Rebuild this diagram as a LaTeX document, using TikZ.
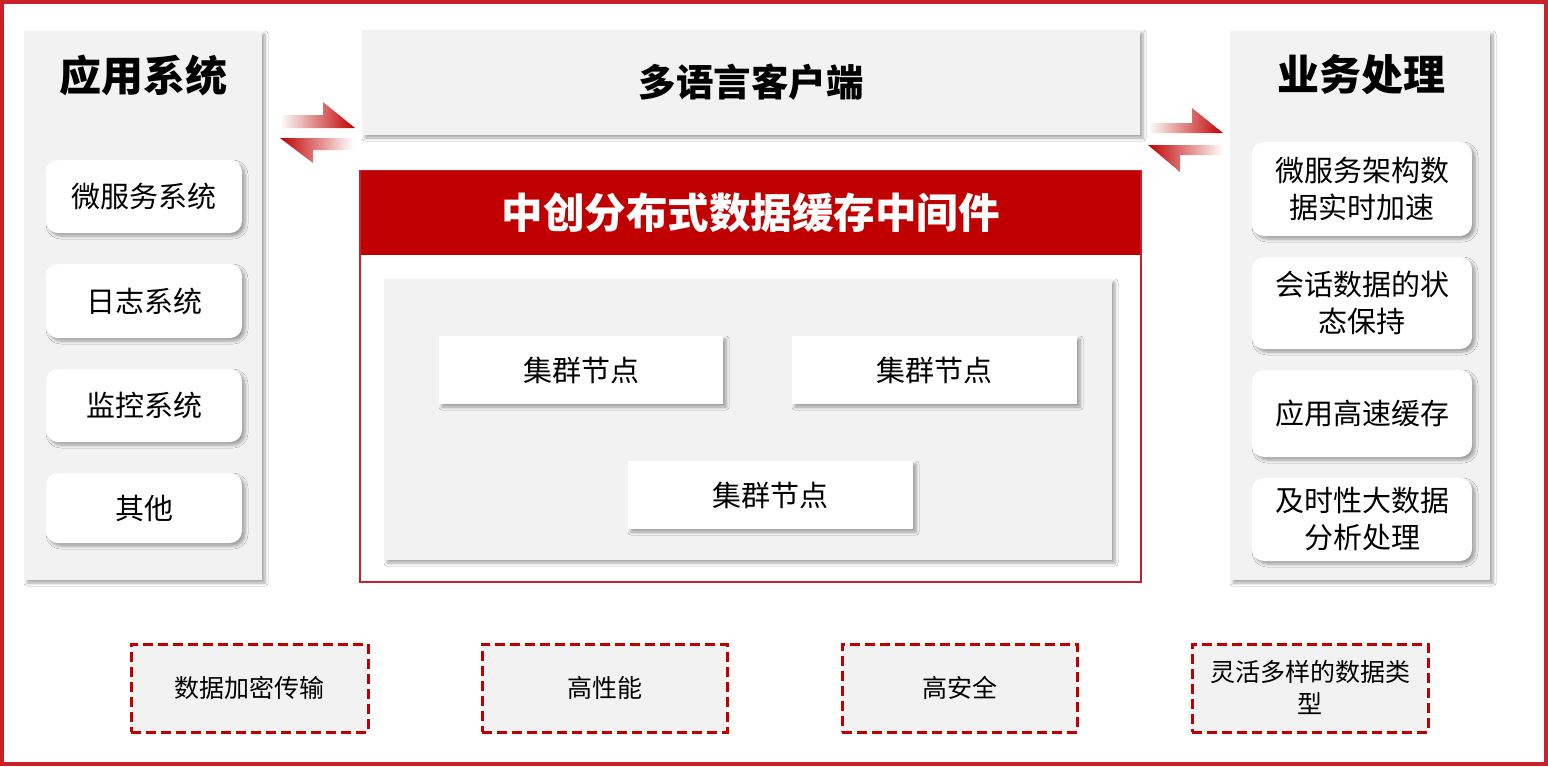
\documentclass[tikz,border=0pt]{standalone}
\usepackage{fontspec}
\setmainfont{Noto Sans CJK SC}
\usetikzlibrary{shadows.blur}
\definecolor{frameRed}{RGB}{204,32,40}
\definecolor{hdrRed}{RGB}{192,0,0}
\definecolor{panelGray}{RGB}{242,242,242}
\definecolor{arrPink}{RGB}{250,160,168}
\tikzset{
  shadowed/.style={blur shadow={shadow xshift=3pt,shadow yshift=-3pt,shadow blur steps=6,shadow blur radius=3pt,shadow opacity=35}},
  panel/.style={fill=panelGray,draw=none,shadowed,inner sep=0pt},
  subbox/.style={fill=white,draw=none,rounded corners=12pt,shadowed,align=center,font=\fontsize{29}{37}\selectfont,inner sep=0pt},
  clusterbox/.style={fill=white,draw=none,shadowed,font=\fontsize{29}{34}\selectfont,inner sep=0pt},
  feature/.style={fill=panelGray,draw=hdrRed,line width=3pt,dash pattern=on 10pt off 5pt,align=center,font=\fontsize{25}{32}\selectfont,inner sep=0pt},
  paneltitle/.style={font=\bfseries\fontsize{42}{50}\selectfont},
}
\begin{document}
\begin{tikzpicture}[x=1pt,y=-1pt]
\useasboundingbox (0,0) rectangle (1548,766);
\fill[white] (0,0) rectangle (1548,766);
\draw[frameRed,line width=4pt] (2,2) rectangle (1546,764);

% left panel
\node[panel,minimum width=238pt,minimum height=549pt] (leftp) at (143,305.5) {};
\node[paneltitle] (leftt) at (143,75) {应用系统};
\node[subbox,minimum width=196pt,minimum height=73pt] (l1) at (144,196.5) {微服务系统};
\node[subbox,minimum width=196pt,minimum height=74pt] (l2) at (144,301) {日志系统};
\node[subbox,minimum width=196pt,minimum height=73pt] (l3) at (144,405.5) {监控系统};
\node[subbox,minimum width=196pt,minimum height=70pt] (l4) at (144,508) {其他};

% client
\node[panel,minimum width=778pt,minimum height=105pt,font=\bfseries\fontsize{37.5}{45}\selectfont] (client) at (751,82.5) {多语言客户端};

% middleware
\node[fill=white,draw=frameRed,line width=2pt,minimum width=781pt,minimum height=411pt,inner sep=0pt] (mid) at (750.5,376.5) {};
\node[fill=hdrRed,draw=none,minimum width=779pt,minimum height=84pt,inner sep=0pt,text=white,font=\bfseries\fontsize{41.5}{50}\selectfont] (midh) at (750.5,213) {中创分布式数据缓存中间件};
\node[panel,minimum width=728pt,minimum height=281pt] (inner) at (748,419.5) {};
\node[clusterbox,minimum width=284pt,minimum height=68pt] (c1) at (581,370) {集群节点};
\node[clusterbox,minimum width=285pt,minimum height=68pt] (c2) at (934.5,370) {集群节点};
\node[clusterbox,minimum width=285pt,minimum height=68pt] (c3) at (770.5,495) {集群节点};

% right panel
\node[panel,minimum width=260pt,minimum height=549pt] (rightp) at (1360,305.5) {};
\node[paneltitle] (rightt) at (1361,75) {业务处理};
\node[subbox,minimum width=220pt,minimum height=94pt] (r1) at (1362,189) {微服务架构数\\据实时加速};
\node[subbox,minimum width=220pt,minimum height=92pt] (r2) at (1362,303) {会话数据的状\\态保持};
\node[subbox,minimum width=220pt,minimum height=87pt] (r3) at (1362,413.5) {应用高速缓存};
\node[subbox,minimum width=220pt,minimum height=83pt] (r4) at (1362,519.5) {及时性大数据\\分析处理};

% features
\node[feature,minimum width=237pt,minimum height=88pt] (f1) at (249.5,688) {数据加密传输};
\node[feature,minimum width=245pt,minimum height=88pt] (f2) at (604.5,688) {高性能};
\node[feature,minimum width=235pt,minimum height=88pt] (f3) at (959.5,688) {高安全};
\node[feature,minimum width=236pt,minimum height=88pt] (f4) at (1310,688) {灵活多样的数据类\\型};

% arrows
\shade[left color=white,middle color=arrPink,right color=hdrRed]
  (280,115) -- (323,115) -- (323,102) -- (355,128) -- (280,128) -- cycle;
\shade[left color=hdrRed,middle color=arrPink,right color=white]
  (353,138) -- (280,138) -- (313,163) -- (313,150) -- (353,150) -- cycle;
\shade[left color=white,middle color=arrPink,right color=hdrRed]
  (1148,123) -- (1192,123) -- (1192,108) -- (1223,133) -- (1148,133) -- cycle;
\shade[left color=hdrRed,middle color=arrPink,right color=white]
  (1223,145) -- (1148,145) -- (1180,172) -- (1180,155) -- (1223,155) -- cycle;
\end{tikzpicture}
\end{document}
